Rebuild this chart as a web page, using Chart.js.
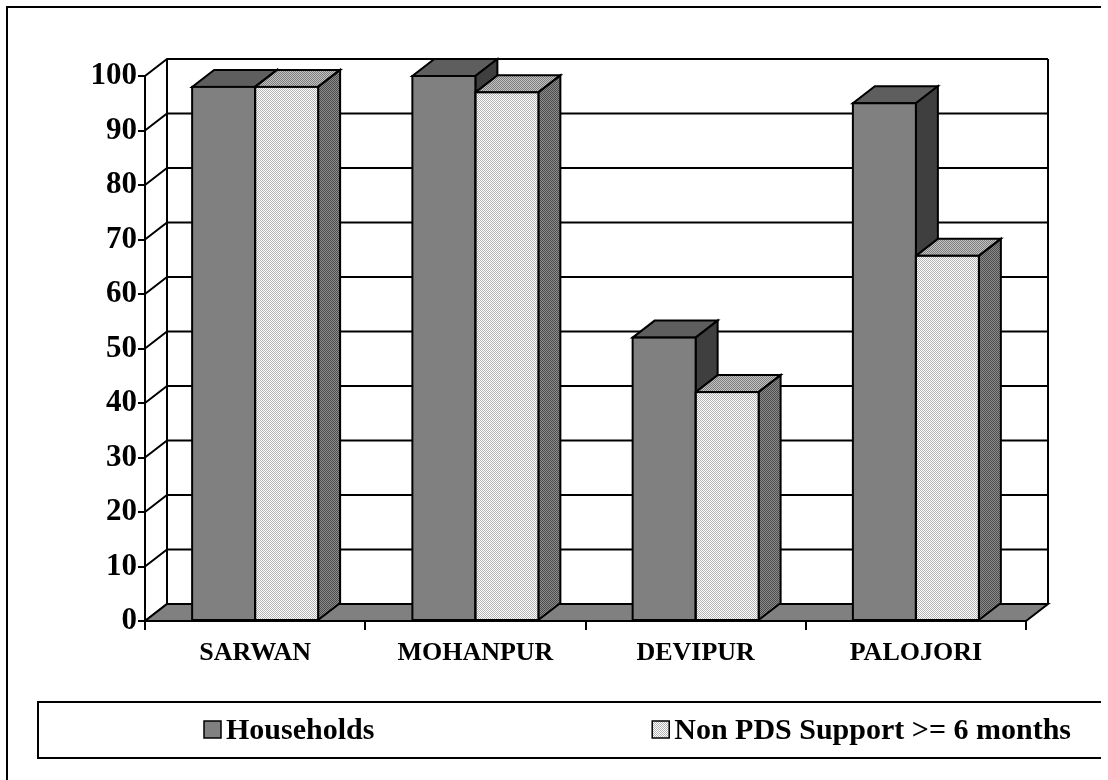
<!DOCTYPE html>
<html>
<head>
<meta charset="utf-8">
<script src="https://cdn.jsdelivr.net/npm/chart.js@4.4.0/dist/chart.umd.min.js"></script>
<style>
  html, body { margin: 0; padding: 0; background: #ffffff; }
  #wrap { position: relative; width: 1108px; height: 780px; }
</style>
</head>
<body>
<div id="wrap"><canvas id="chart"></canvas></div>
<script>
// Villages on the category axis
const villages = ['SARWAN', 'MOHANPUR', 'DEVIPUR', 'PALOJORI'];
// Percentage values per series
const households = [98, 100, 52, 95];
const nonPdsSupport = [98, 97, 42, 67];
// Series names and value-axis tick labels
const seriesNames = ['Households', 'Non PDS Support >= 6 months'];
const valueTicks = [0, 10, 20, 30, 40, 50, 60, 70, 80, 90, 100];

// Oblique depth of the 3D box (pixels)
const DX = 22, DY = -17;
const FONT = "'Liberation Serif', 'Times New Roman', serif";

function dotPattern(light, dark) {
  const c = document.createElement('canvas');
  c.width = 2; c.height = 2;
  const g = c.getContext('2d');
  g.fillStyle = light; g.fillRect(0, 0, 2, 2);
  g.fillStyle = dark; g.fillRect(0, 0, 1, 1); g.fillRect(1, 1, 1, 1);
  return g.createPattern(c, 'repeat');
}

const faces = [
  { front: '#808080', top: '#5e5e5e', side: '#3f3f3f' },
  { front: dotPattern('#ffffff', '#b2b2b2'), top: dotPattern('#c4c4c4', '#7c7c7c'), side: dotPattern('#8c8c8c', '#4c4c4c') }
];

function poly(ctx, pts, fill) {
  ctx.beginPath();
  ctx.moveTo(pts[0][0], pts[0][1]);
  for (let k = 1; k < pts.length; k++) ctx.lineTo(pts[k][0], pts[k][1]);
  ctx.closePath();
  ctx.fillStyle = fill;
  ctx.fill();
  ctx.stroke();
}

function barBox(el) {
  const p = el.getProps(['x', 'y', 'base', 'width'], true);
  return { l: p.x - p.width / 2, r: p.x + p.width / 2, top: p.y, base: p.base };
}

const depthPlugin = {
  id: 'depth3d',
  beforeDraw(chart) {
    const { ctx, chartArea: a, scales: { y } } = chart;
    ctx.save();
    ctx.strokeStyle = '#000';
    ctx.lineWidth = 2;
    // outer frame
    ctx.beginPath();
    ctx.moveTo(7, chart.height + 4);
    ctx.lineTo(7, 7);
    ctx.lineTo(1101, 7);
    ctx.stroke();
    // side-wall diagonals and back-wall gridlines
    y.ticks.forEach(t => {
      const py = y.getPixelForValue(t.value);
      ctx.beginPath();
      ctx.moveTo(a.left, py);
      ctx.lineTo(a.left + DX, py + DY);
      ctx.lineTo(a.right + DX, py + DY);
      ctx.stroke();
    });
    ctx.beginPath();
    ctx.moveTo(a.left + DX, a.bottom + DY);
    ctx.lineTo(a.left + DX, a.top + DY);
    ctx.moveTo(a.right + DX, a.bottom + DY);
    ctx.lineTo(a.right + DX, a.top + DY);
    ctx.stroke();
    // floor
    poly(ctx, [[a.left, a.bottom], [a.right, a.bottom], [a.right + DX, a.bottom + DY], [a.left + DX, a.bottom + DY]], '#808080');
    ctx.restore();
  },
  beforeDatasetsDraw(chart) {
    const ctx = chart.ctx;
    const metas = chart.data.datasets.map((d, i) => chart.getDatasetMeta(i));
    ctx.save();
    ctx.strokeStyle = '#000';
    ctx.lineWidth = 2;
    ctx.lineJoin = 'miter';
    for (let j = 0; j < chart.data.labels.length; j++) {
      metas.forEach((m, i) => {
        const b = barBox(m.data[j]);
        const f = faces[i];
        poly(ctx, [[b.l, b.top], [b.r, b.top], [b.r + DX, b.top + DY], [b.l + DX, b.top + DY]], f.top);
        poly(ctx, [[b.r, b.top], [b.r + DX, b.top + DY], [b.r + DX, b.base + DY], [b.r, b.base]], f.side);
      });
    }
    ctx.restore();
  },
  afterDatasetsDraw(chart) {
    const ctx = chart.ctx;
    ctx.save();
    ctx.strokeStyle = '#000';
    ctx.lineWidth = 2;
    chart.data.datasets.forEach((d, i) => {
      chart.getDatasetMeta(i).data.forEach(el => {
        const b = barBox(el);
        ctx.strokeRect(b.l, b.top, b.r - b.l, b.base - b.top);
      });
    });
    ctx.restore();
  },
  afterDraw(chart) {
    const ctx = chart.ctx;
    ctx.save();
    // legend frame (open on the right)
    ctx.strokeStyle = '#000';
    ctx.lineWidth = 2;
    ctx.beginPath();
    ctx.moveTo(1101, 702);
    ctx.lineTo(38, 702);
    ctx.lineTo(38, 758);
    ctx.lineTo(1101, 758);
    ctx.stroke();
    ctx.font = 'bold 30px ' + FONT;
    ctx.textBaseline = 'middle';
    ctx.fillStyle = '#000';
    const names = chart.data.datasets.map(d => d.label);
    const w2 = ctx.measureText(names[1]).width;
    const textX = [226, 1071 - w2];
    names.forEach((name, i) => {
      const tx = textX[i];
      ctx.lineWidth = 1.5;
      ctx.fillStyle = faces[i].front;
      ctx.fillRect(tx - 22, 721, 17, 17);
      ctx.strokeRect(tx - 22, 721, 17, 17);
      ctx.fillStyle = '#000';
      ctx.fillText(name, tx, 731);
    });
    ctx.restore();
  }
};

new Chart(document.getElementById('chart'), {
  type: 'bar',
  data: {
    labels: villages,
    datasets: [
      { label: seriesNames[0], data: households, backgroundColor: faces[0].front, borderWidth: 0 },
      { label: seriesNames[1], data: nonPdsSupport, backgroundColor: faces[1].front, borderWidth: 0 }
    ]
  },
  options: {
    responsive: true,
    maintainAspectRatio: false,
    animation: false,
    events: [],
    layout: { padding: { left: 0, right: 82, top: 76, bottom: 99 } },
    datasets: { bar: { categoryPercentage: 0.572, barPercentage: 1.0, clip: false } },
    plugins: { legend: { display: false }, tooltip: { enabled: false } },
    scales: {
      x: {
        offset: true,
        grid: { offset: true, display: true, drawOnChartArea: false, drawTicks: true, tickLength: 9, color: '#000', lineWidth: 2 },
        border: { display: true, color: '#000', width: 2 },
        ticks: { color: '#000', padding: 8, maxRotation: 0, font: { family: FONT, weight: 'bold', size: 26 } },
        afterFit(s) { s.height = 60; }
      },
      y: {
        min: 0,
        max: 100,
        afterBuildTicks(s) { s.ticks = valueTicks.map(v => ({ value: v })); },
        grid: { display: true, drawOnChartArea: false, drawTicks: true, tickLength: 7, color: '#000', lineWidth: 2 },
        border: { display: true, color: '#000', width: 2 },
        ticks: { color: '#000', padding: 1, font: { family: FONT, weight: 'bold', size: 31 } },
        afterFit(s) { s.width = 145; }
      }
    }
  },
  plugins: [depthPlugin]
});
</script>
</body>
</html>
